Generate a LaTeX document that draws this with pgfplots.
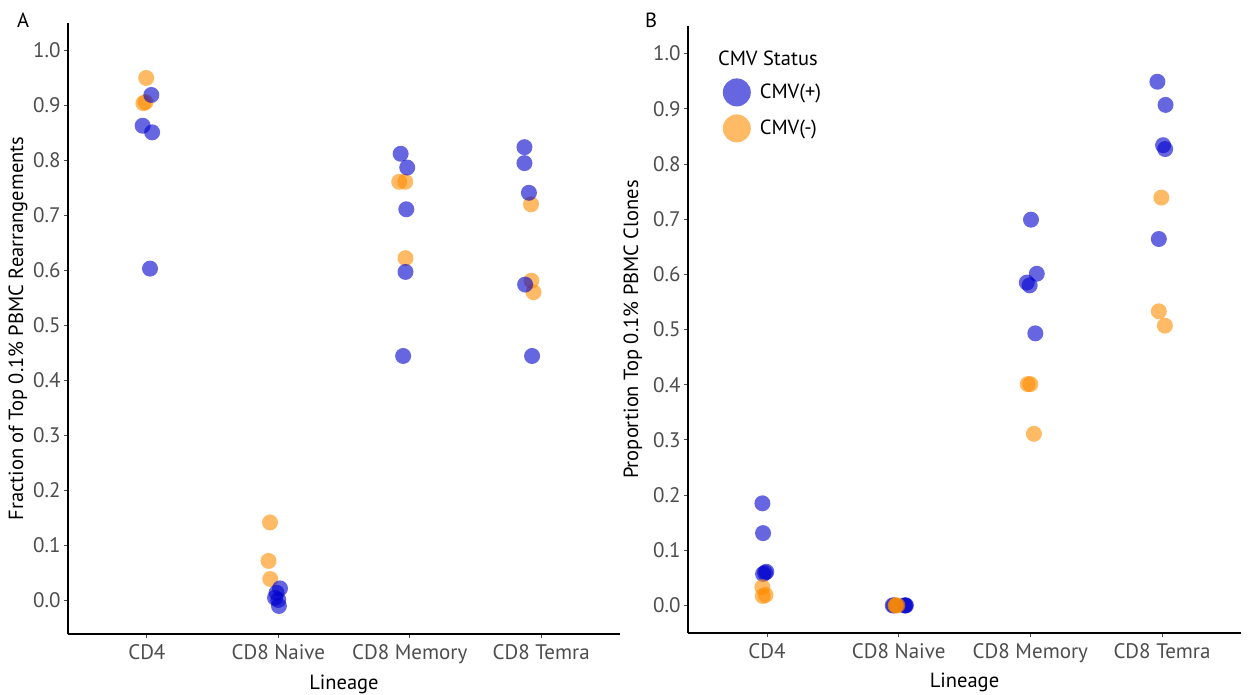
\documentclass[border=0pt]{standalone}
\usepackage{fontspec}
\setmainfont{PT Sans}
\usepackage{pgfplots}
\pgfplotsset{compat=1.18}
\definecolor{cplus}{HTML}{0000CD}
\definecolor{cminus}{HTML}{FF8C00}
\definecolor{tickgray}{HTML}{4D4D4D}
\newcommand{\ff}{\fontsize{20.5}{24}\selectfont}
\newcommand{\tf}{\fontsize{21}{24}\selectfont}
\pgfplotsset{
  panel/.style={
    scale only axis, anchor=south west,
    xmin=0.4, xmax=4.6,
    axis x line*=bottom, axis y line*=left,
    axis line style={line width=1.3pt, black},
    tick style={tickgray, line width=0.8pt},
    major tick length=4pt, tick align=outside,
    xtick={1,2,3,4},
    xticklabels={CD4,CD8 Naive,CD8 Memory,CD8 Temra},
    ytick={0,0.1,0.2,0.3,0.4,0.5,0.6,0.7,0.8,0.9,1.0},
    yticklabel style={/pgf/number format/.cd, fixed, fixed zerofill, precision=1, assume math mode=true},
    xticklabel style={yshift=-3pt},
    ticklabel style={font=\tf, text=tickgray},
    label style={font=\ff},
    xlabel={Lineage},
    xlabel style={at={(axis description cs:0.5,-0.082)}, anchor=center},
  },
  pplus/.style={only marks, mark=*, mark size=8pt, color=cplus, mark options={fill=cplus, draw opacity=0, fill opacity=0.6}},
  pminus/.style={only marks, mark=*, mark size=8pt, color=cminus, mark options={fill=cminus, draw opacity=0, fill opacity=0.6}},
}
\begin{document}
\begin{tikzpicture}
\useasboundingbox (0,0) rectangle (1253pt,694pt);
\node[font=\ff, anchor=center] at (23pt,674pt) {A};
\node[font=\ff, anchor=center] at (651pt,674pt) {B};
% Panel A
\begin{axis}[panel, at={(68pt,60pt)}, width=552pt, height=611pt,
  ymin=-0.062, ymax=1.05,
  ylabel={Fraction of Top 0.1\% PBMC Rearrangements},
  ylabel style={at={(axis description cs:-0.0906,0.5)}, anchor=center},
]
\addplot[pminus, forget plot] coordinates {
 (0.995,0.950) (0.974,0.904) (0.990,0.906)
 (1.937,0.141) (1.926,0.071) (1.939,0.038)
 (2.920,0.761) (2.966,0.761) (2.968,0.622)
 (3.923,0.720) (3.926,0.581) (3.942,0.560)
};
\addplot[pplus, forget plot] coordinates {
 (1.034,0.919) (0.968,0.863) (1.040,0.851) (1.024,0.603)
 (2.013,0.021) (1.987,0.013) (1.975,0.004) (2.000,0.000) (2.005,-0.011)
 (2.931,0.812) (2.981,0.787) (2.974,0.711) (2.968,0.597) (2.950,0.444)
 (3.873,0.824) (3.873,0.795) (3.907,0.741) (3.878,0.574) (3.931,0.444)
};
\end{axis}
% Panel B
\begin{axis}[panel, at={(688pt,61pt)}, width=553pt, height=607pt,
  ymin=-0.05, ymax=1.05,
  ylabel={Proportion Top 0.1\% PBMC Clones},
  ylabel style={at={(axis description cs:-0.0995,0.5)}, anchor=center},
  legend style={at={(axis description cs:0.0626,0.914)}, anchor=north west,
    draw=none, fill=none, font=\ff, inner sep=0pt, row sep=8pt},
  legend cell align=left,
]
\addplot[pplus, forget plot] coordinates {
 (0.965,0.185) (0.970,0.131) (0.995,0.061) (0.970,0.057) (0.985,0.059)
 (1.955,0.000) (1.965,0.000) (2.045,0.000) (2.055,0.000) (2.050,0.000)
 (3.005,0.699) (3.049,0.601) (2.973,0.585) (2.995,0.580) (3.038,0.493)
 (3.965,0.949) (4.027,0.907) (4.008,0.834) (4.024,0.827) (3.976,0.664)
};
\addplot[pminus, forget plot] coordinates {
 (0.965,0.033) (0.968,0.017) (0.989,0.019)
 (1.975,0.000) (1.990,0.000) (1.980,0.000)
 (2.980,0.401) (3.000,0.401) (3.027,0.311)
 (3.995,0.739) (3.976,0.533) (4.022,0.507)
};
\addlegendimage{only marks, mark=*, mark size=14pt, color=cplus, mark options={fill=cplus, draw opacity=0, fill opacity=0.6}}
\addlegendentry{\hspace{7pt}CMV(+)}
\addlegendimage{only marks, mark=*, mark size=14pt, color=cminus, mark options={fill=cminus, draw opacity=0, fill opacity=0.6}}
\addlegendentry{\hspace{7pt}CMV(-)}
\node[font=\ff, anchor=west, inner sep=0pt] at (axis description cs:0.054,0.947) {CMV Status};
\end{axis}
\end{tikzpicture}
\end{document}
